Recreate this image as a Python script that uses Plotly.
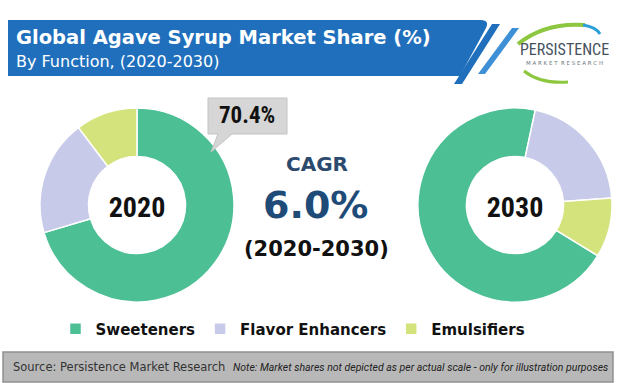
import plotly.graph_objects as go

# ---- data ----
categories = ["Sweeteners", "Flavor Enhancers", "Emulsifiers"]
share_2020 = [70.4, 19.3, 10.3]
share_2030 = [69.6, 20.5, 9.9]
years = ["2020", "2030"]
cagr_value = "6.0%"
cagr_period = "(2020-2030)"
colors = ["#4cbf95", "#c7cae8", "#d5e37c"]

W, H = 620, 383
COND = "Liberation Sans Narrow, Roboto Condensed, DejaVu Sans Condensed, Roboto, sans-serif"

def px_x(x):
    return x / W

def px_y(y):
    return 1 - y / H

fig = go.Figure()

R = 97
centers = [(137, 205), (515, 205)]
rotations = [0, 121.5]
for (cx, cy), vals, yr, rot in zip(centers, [share_2020, share_2030], years, rotations):
    fig.add_trace(go.Pie(
        labels=categories,
        values=vals,
        hole=0.5,
        sort=False,
        direction="clockwise",
        rotation=rot,
        marker=dict(colors=colors, line=dict(color="#ffffff", width=1.5)),
        textinfo="none",
        hoverinfo="label+percent",
        domain=dict(x=[px_x(cx - R), px_x(cx + R)], y=[px_y(cy + R), px_y(cy - R)]),
        title=dict(text=f"<b>{yr}</b>", position="middle center",
                   font=dict(family=COND, size=28, color="#111111")),
        showlegend=True,
    ))

shapes = []
# title banner
shapes.append(dict(type="path", xref="paper", yref="paper",
                   path=f"M {px_x(8)} {px_y(20)} L {px_x(480)} {px_y(20)} Q {px_x(490)} {px_y(20)} {px_x(486)} {px_y(28)} "
                        f"L {px_x(460)} {px_y(76)} L {px_x(8)} {px_y(76)} Z",
                   fillcolor="#1f6fbd", line=dict(width=0), layer="below"))
# stripes
shapes.append(dict(type="path", xref="paper", yref="paper",
                   path=f"M {px_x(492)} {px_y(24)} L {px_x(500)} {px_y(24)} L {px_x(462)} {px_y(84)} L {px_x(454)} {px_y(84)} Z",
                   fillcolor="#1f6fbd", line=dict(width=0)))
shapes.append(dict(type="path", xref="paper", yref="paper",
                   path=f"M {px_x(512)} {px_y(28)} L {px_x(519)} {px_y(28)} L {px_x(485)} {px_y(74)} L {px_x(478)} {px_y(74)} Z",
                   fillcolor="#3d8fd6", line=dict(width=0)))
# logo swooshes
shapes.append(dict(type="path", xref="paper", yref="paper",
                   path=f"M {px_x(518)} {px_y(44)} Q {px_x(545)} {px_y(22)} {px_x(585)} {px_y(25)}",
                   line=dict(color="#8dc63f", width=4)))
shapes.append(dict(type="path", xref="paper", yref="paper",
                   path=f"M {px_x(583)} {px_y(25)} Q {px_x(596)} {px_y(27)} {px_x(600)} {px_y(34)}",
                   line=dict(color="#2a9fd8", width=3)))
shapes.append(dict(type="path", xref="paper", yref="paper",
                   path=f"M {px_x(524)} {px_y(71)} Q {px_x(540)} {px_y(84)} {px_x(568)} {px_y(82)}",
                   line=dict(color="#8dc63f", width=3)))
# callout box
shapes.append(dict(type="path", xref="paper", yref="paper",
                   path=f"M {px_x(208)} {px_y(98)} L {px_x(287)} {px_y(98)} L {px_x(287)} {px_y(134)} "
                        f"L {px_x(232)} {px_y(134)} L {px_x(211)} {px_y(152)} L {px_x(218)} {px_y(134)} "
                        f"L {px_x(208)} {px_y(134)} Z",
                   fillcolor="#d6d6d6", line=dict(color="#c4c4c4", width=1)))
# footer band
shapes.append(dict(type="rect", xref="paper", yref="paper",
                   x0=px_x(3), x1=px_x(613), y0=px_y(382), y1=px_y(352),
                   fillcolor="#b8b8b8", line=dict(color="#909090", width=1.5), layer="below"))

annotations = [
    dict(text="<b>Global Agave Syrup Market Share (%)</b>", x=px_x(14), y=px_y(37),
         xanchor="left", yanchor="middle", showarrow=False,
         font=dict(family="DejaVu Sans", size=19.5, color="#ffffff")),
    dict(text="By Function, (2020-2030)", x=px_x(14), y=px_y(61),
         xanchor="left", yanchor="middle", showarrow=False,
         font=dict(family="DejaVu Sans", size=16, color="#ffffff")),
    dict(text="PERSISTENCE", x=px_x(564), y=px_y(50), xanchor="center", yanchor="middle",
         showarrow=False, font=dict(family=COND, size=16, color="#46525e")),
    dict(text="M A R K E T  R E S E A R C H", x=px_x(564), y=px_y(63), xanchor="center", yanchor="middle",
         showarrow=False, font=dict(family="DejaVu Sans", size=5.5, color="#6b7680")),
    dict(text=f"<b>{share_2020[0]:.1f}%</b>", x=px_x(247), y=px_y(116), xanchor="center", yanchor="middle",
         showarrow=False, font=dict(family=COND, size=23, color="#111111")),
    dict(text="<b>CAGR</b>", x=px_x(317), y=px_y(164), xanchor="center", yanchor="middle",
         showarrow=False, font=dict(family="DejaVu Sans", size=20, color="#2c4a6e")),
    dict(text=f"<b>{cagr_value}</b>", x=px_x(315), y=px_y(205), xanchor="center", yanchor="middle",
         showarrow=False, font=dict(family="DejaVu Sans", size=38, color="#1f4b78")),
    dict(text=f"<b>{cagr_period}</b>", x=px_x(317), y=px_y(249), xanchor="center", yanchor="middle",
         showarrow=False, font=dict(family="DejaVu Sans", size=21, color="#111111")),
    dict(text="Source: Persistence Market Research", x=px_x(11), y=px_y(367), xanchor="left", yanchor="middle",
         showarrow=False, font=dict(family="DejaVu Sans", size=11.5, color="#333333")),
    dict(text="<i>Note: Market shares not depicted as per actual scale - only for illustration purposes</i>",
         x=px_x(610), y=px_y(367), xanchor="right", yanchor="middle",
         showarrow=False, font=dict(family="Roboto", size=10.5, color="#222222")),
]

fig.update_layout(
    width=W, height=H,
    margin=dict(l=0, r=0, t=0, b=0),
    paper_bgcolor="#ffffff",
    plot_bgcolor="#ffffff",
    shapes=shapes,
    annotations=annotations,
    legend=dict(orientation="h", x=px_x(293), xanchor="center", y=px_y(329), yanchor="middle",
                font=dict(family="DejaVu Sans", size=15, color="#111111", weight="bold"),
                itemclick=False, itemdoubleclick=False, traceorder="normal"),
)

fig.write_html("out.html",
               config={"displayModeBar": False},
               post_script="document.body.style.margin='0';document.body.style.overflow='hidden';")
